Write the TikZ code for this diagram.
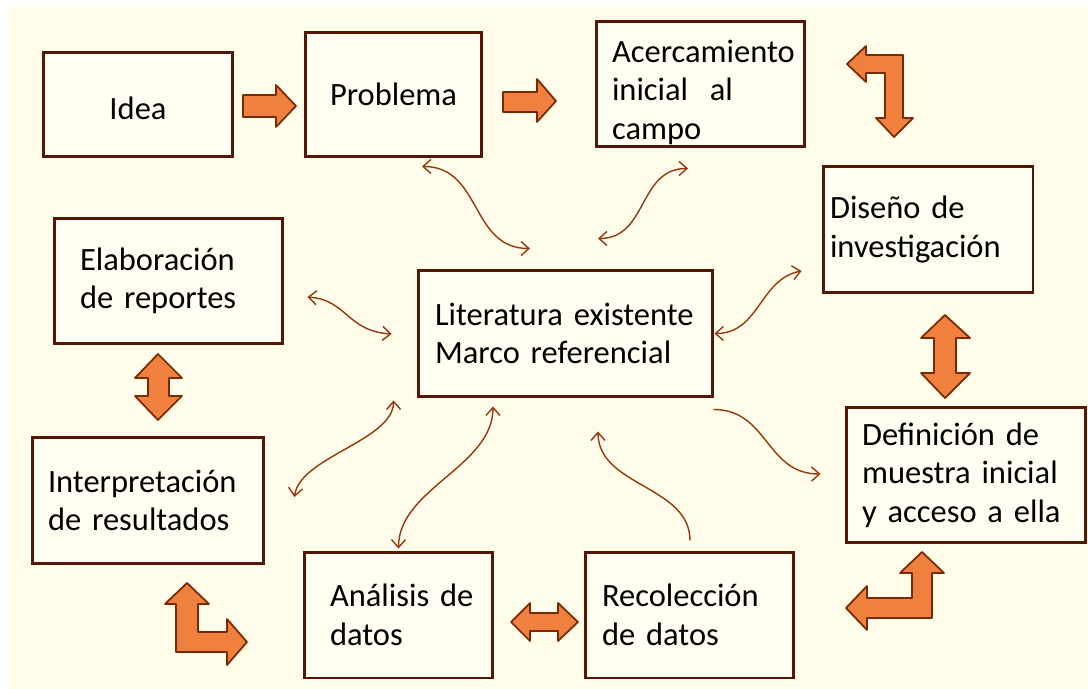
\documentclass[tikz,border=0pt]{standalone}
\usepackage{fontspec}
\setmainfont{Carlito}
\usepackage{tikz}
\usetikzlibrary{arrows.meta}

\definecolor{fondo}{RGB}{255,253,234}
\definecolor{borde}{RGB}{85,22,6}
\definecolor{naranja}{RGB}{240,128,62}
\definecolor{naranjaosc}{RGB}{120,42,5}
\definecolor{curva}{RGB}{150,55,15}

\begin{document}
\begin{tikzpicture}[
  x=0.02cm, y=-0.02cm,
  >={Straight Barb[length=4.5pt,width=8pt]},
  caja/.style={rectangle, draw=borde, line width=1.7pt, fill=fondo!70!white, align=left, text=black, font=\fontsize{18.5}{21.9}\selectfont},
  bloque/.style={fill=naranja, draw=naranjaosc, line width=1pt, line join=round},
  curvo/.style={draw=curva, line width=0.8pt}
]
\useasboundingbox (0,0) rectangle (1088,689);
\fill[white] (0,0) rectangle (1088,689);
\fill[fondo] (9,7) rectangle (1088,689);

% Cajas
\node[caja, minimum width=3.8cm, minimum height=2.1cm, align=center] (idea) at (138,104.5) {\rule{0pt}{0.6cm}Idea};
\node[caja, minimum width=3.54cm, minimum height=2.5cm, align=center] (problema) at (393.5,94.5) {Problema};
\node[caja, text width=3.54cm, inner xsep=0.32cm, inner ysep=0pt, minimum height=2.52cm] (acerca) at (700.5,84) {\rule{0pt}{0.78cm}Acercamiento\\inicial~~al\\campo};
\node[caja, text width=3.92cm, inner xsep=0.14cm, minimum height=2.54cm] (diseno) at (928,229.5) {Diseño~de\\investigación};
\node[caja, text width=3.54cm, inner xsep=0.52cm, minimum height=2.52cm] (elabora) at (168.5,281) {Elaboración\\de~reportes};
\node[caja, text width=5.22cm, inner xsep=0.34cm, minimum height=2.54cm] (literatura) at (565.5,333.5) {Literatura~existente\\Marco~referencial};
\node[caja, text width=4.0cm, inner xsep=0.32cm, minimum height=2.54cm] (interpreta) at (148,500.5) {Interpretación\\de~resultados};
\node[caja, text width=4.16cm, inner xsep=0.32cm, minimum height=2.72cm] (definicion) at (966,475) {Definición~de\\muestra~inicial\\y~acceso~a~ella};
\node[caja, text width=2.74cm, inner xsep=0.52cm, minimum height=2.52cm] (analisis) at (398.5,615) {Análisis~de\\datos};
\node[caja, text width=3.5cm, inner xsep=0.34cm, minimum height=2.52cm] (recolecta) at (689.5,615) {Recolección\\de~datos};

% Flechas de bloque
\draw[bloque] (243,95) -- (276,95) -- (276,85) -- (296,106) -- (276,127) -- (276,117) -- (243,117) -- cycle;
\draw[bloque] (503,92) -- (537,92) -- (537,79) -- (556,101) -- (537,122) -- (537,112) -- (503,112) -- cycle;
\draw[bloque] (847,64) -- (866,46) -- (866,55) -- (903,55) -- (903,118) -- (913,118) -- (894,137) -- (876,118) -- (885,118) -- (885,73) -- (866,73) -- (866,82) -- cycle;
\draw[bloque] (945,315) -- (970,338) -- (956,338) -- (956,373) -- (970,373) -- (945,398) -- (921,373) -- (934,373) -- (934,338) -- (921,338) -- cycle;
\draw[bloque] (158,354) -- (182,378) -- (169,378) -- (169,396) -- (182,396) -- (158,420) -- (135,396) -- (148,396) -- (148,378) -- (135,378) -- cycle;
\draw[bloque] (511,622) -- (530,603) -- (530,613) -- (558,613) -- (558,603) -- (578,622) -- (558,641) -- (558,631) -- (530,631) -- (530,641) -- cycle;
\draw[bloque] (187,583) -- (209,604) -- (198,604) -- (198,632) -- (227,632) -- (227,619) -- (247,642) -- (227,665) -- (227,652) -- (176,652) -- (176,604) -- (165,604) -- cycle;
\draw[bloque] (922,552) -- (944,573) -- (932,573) -- (932,618) -- (867,618) -- (867,630) -- (846,608) -- (867,586) -- (867,598) -- (912,598) -- (912,573) -- (900,573) -- cycle;

% Flechas curvas
\draw[curvo, <->] ([shift={(28.5,8)}]problema.south) .. controls +(60,0) and +(-60,0) .. ([shift={(-35.5,-20)}]literatura.north);
\draw[curvo, <->] ([shift={(-12.5,20)}]acerca.south) .. controls +(-50,0) and +(50,0) .. ([shift={(32.5,-30)}]literatura.north);
\draw[curvo, <->] ([shift={(-20,41.5)}]diseno.west) .. controls +(-42,8) and +(45,0) .. (literatura.east);
\draw[curvo, <->] ([shift={(23,16)}]elabora.east) .. controls +(40,3) and +(-45,-3) .. ([shift={(-25,0.5)}]literatura.west);
\draw[curvo, <->] ([shift={(-23,2)}]literatura.south west) .. controls +(0,40) and +(5,-40) .. ([shift={(29,-3.5)}]interpreta.east);
\draw[curvo, <->] ([shift={(-72.5,8)}]literatura.south) .. controls +(0,60) and +(0,-60) .. ([shift={(0,-2)}]analisis.north);
\draw[curvo, ->] ([shift={(0.5,-10)}]recolecta.north) .. controls +(0,-55) and +(0,55) .. ([shift={(32.5,33)}]literatura.south);
\draw[curvo, ->] ([shift={(-1,11)}]literatura.south east) .. controls +(55,0) and +(-55,0) .. ([shift={(-24,-1)}]definicion.west);

\end{tikzpicture}
\end{document}
